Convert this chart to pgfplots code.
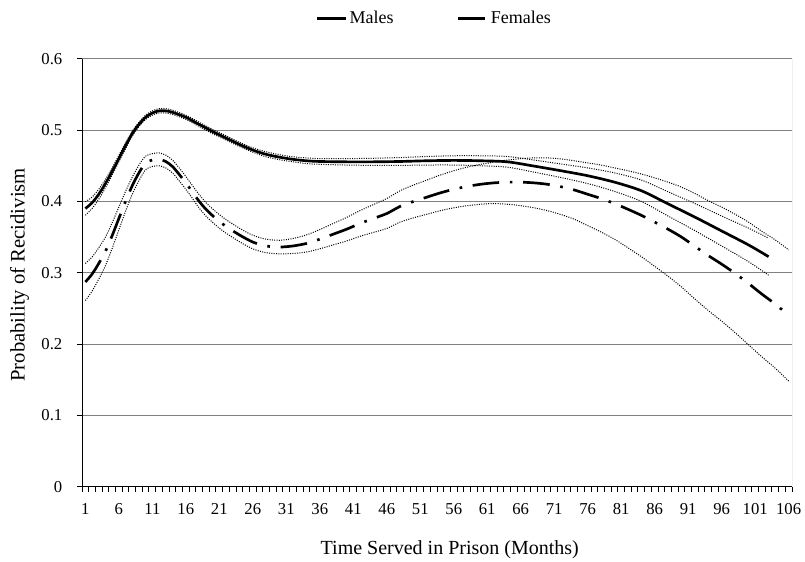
\documentclass[border=0pt]{standalone}
\usepackage{pgfplots}
\usepackage{pgfplotstable}
\pgfplotsset{compat=1.18}
\usepackage{fontspec}
\setmainfont{Liberation Serif}

\pgfplotstableread{
x mean up lo
1 0.390 0.3995 0.3805
2 0.398 0.406 0.390
3 0.410 0.417 0.403
4 0.425 0.431 0.419
5 0.442 0.447 0.437
6 0.460 0.4645 0.4555
7 0.478 0.482 0.474
8 0.495 0.4985 0.4915
9 0.508 0.511 0.505
10 0.518 0.521 0.515
11 0.524 0.527 0.521
12 0.527 0.530 0.524
13 0.527 0.530 0.524
14 0.525 0.528 0.522
16 0.518 0.521 0.515
18 0.508 0.511 0.505
20 0.498 0.501 0.495
22 0.489 0.492 0.486
24 0.480 0.483 0.477
26 0.472 0.475 0.469
28 0.466 0.4695 0.4625
30 0.462 0.4655 0.4585
32 0.459 0.4625 0.4555
34 0.457 0.461 0.453
36 0.456 0.460 0.452
40 0.4555 0.460 0.451
44 0.4555 0.4605 0.4505
48 0.456 0.4615 0.4505
52 0.457 0.463 0.451
56 0.4575 0.464 0.451
60 0.457 0.464 0.450
64 0.4555 0.463 0.448
68 0.4495 0.458 0.441
72 0.4430 0.4525 0.4335
76 0.4360 0.447 0.425
80 0.4270 0.440 0.414
84 0.4150 0.430 0.400
88 0.3965 0.4135 0.3795
92 0.3780 0.397 0.359
96 0.3585 0.3795 0.3375
100 0.3390 0.3625 0.3155
103 0.3225 0.3485 0.2965
}\males

\pgfplotstableread{
x mean up lo
1 0.287 0.313 0.261
2 0.298 0.322 0.274
3 0.313 0.335 0.291
4 0.330 0.350 0.310
5 0.352 0.370 0.334
6 0.376 0.392 0.360
7 0.400 0.414 0.386
8 0.422 0.434 0.410
9 0.440 0.451 0.429
10 0.454 0.4635 0.4445
11 0.458 0.467 0.449
12 0.459 0.468 0.450
13 0.456 0.465 0.447
14 0.449 0.458 0.440
15 0.438 0.447 0.429
16 0.426 0.435 0.417
17 0.413 0.422 0.404
18 0.400 0.4095 0.3905
19 0.389 0.3985 0.3795
20 0.380 0.3895 0.3705
21 0.372 0.3815 0.3625
22 0.365 0.3745 0.3555
24 0.353 0.3625 0.3435
26 0.343 0.3525 0.3335
28 0.3375 0.347 0.328
30 0.336 0.3455 0.3265
32 0.3375 0.348 0.327
34 0.341 0.353 0.329
36 0.347 0.3605 0.3335
38 0.354 0.369 0.339
40 0.361 0.3775 0.3445
42 0.369 0.387 0.351
44 0.376 0.3955 0.3565
46 0.383 0.404 0.362
48 0.393 0.415 0.371
50 0.400 0.423 0.377
52 0.406 0.430 0.382
54 0.412 0.437 0.387
56 0.417 0.443 0.391
58 0.421 0.448 0.394
60 0.424 0.452 0.396
62 0.426 0.455 0.397
64 0.427 0.458 0.396
66 0.427 0.460 0.394
68 0.426 0.461 0.391
70 0.424 0.461 0.387
72 0.4206 0.4596 0.3816
74 0.416 0.457 0.375
76 0.410 0.454 0.366
78 0.404 0.451 0.357
80 0.397 0.447 0.347
82 0.389 0.443 0.335
84 0.3805 0.4385 0.3225
86 0.371 0.433 0.309
88 0.361 0.427 0.295
90 0.350 0.420 0.280
92 0.337 0.411 0.263
94 0.324 0.401 0.247
96 0.312 0.392 0.232
98 0.299 0.382 0.216
100 0.285 0.371 0.199
102 0.270 0.358 0.182
104 0.256 0.346 0.166
106 0.240 0.332 0.148
}\females

\begin{document}
\begin{tikzpicture}
\path[use as bounding box] (-61.5pt,-55.8pt) rectangle (542.25pt,364.95pt);
\begin{axis}[
  at={(0pt,0pt)}, anchor=south west,
  scale only axis, width=532.5pt, height=320.85pt,
  xmin=0.5, xmax=106.5, ymin=0, ymax=0.6,
  xtick={1,6,...,106},
  minor xtick={0.5,1.5,...,106.5},
  ytick={0,0.1,0.2,0.3,0.4,0.5,0.6},
  yticklabel style={/pgf/number format/fixed,/pgf/number format/precision=1, xshift=-7.5pt},
  xticklabel style={yshift=-5.5pt},
  /pgf/number format/assume math mode=true,
  ymajorgrids,
  major grid style={black!50, line width=0.75pt},
  axis x line*=bottom, axis y line*=left,
  axis line style={black, line width=0.75pt},
  tick align=outside,
  major tick length=3.75pt, minor tick length=3.75pt,
  tick style={black, line width=0.75pt},
  major x tick style={draw=none},
  ticklabel style={font=\fontsize{12.5}{15}\selectfont},
  xlabel={Time Served in Prison (Months)},
  ylabel={Probability of Recidivism},
  xlabel style={font=\fontsize{15}{18}\selectfont, at={(axis description cs:0.518,-0.148)}, anchor=center},
  ylabel style={font=\fontsize{15.5}{18}\selectfont, at={(axis description cs:-0.088,0.495)}, anchor=center},
  legend style={at={(axis description cs:0.496,1.094)}, anchor=center, draw=none,
    font=\fontsize{13.5}{16}\selectfont, legend columns=2,
    nodes={inner xsep=1.5pt},
    /tikz/every even column/.append style={column sep=46pt}},
  legend cell align=left,
  legend image code/.code={\draw[#1] (0pt,0pt) -- (22pt,0pt);},
]
\draw[black!50, line width=0.75pt] (rel axis cs:1,0) -- (rel axis cs:1,1);
\addplot[forget plot, black, line width=0.75pt, densely dotted, smooth] table[x=x, y=up] {\males};
\addplot[forget plot, black, line width=0.75pt, densely dotted, smooth] table[x=x, y=lo] {\males};
\addplot[forget plot, black, line width=0.75pt, densely dotted, smooth] table[x=x, y=up] {\females};
\addplot[forget plot, black, line width=0.75pt, densely dotted, smooth] table[x=x, y=lo] {\females};
\addplot[black, line width=2pt, smooth] table[x=x, y=mean] {\males};
\addlegendentry{Males}
\addplot[black, line width=2pt, smooth, dash pattern=on 20pt off 8pt on 2pt off 8pt] table[x=x, y=mean] {\females};
\addlegendentry{Females}
\end{axis}
\end{tikzpicture}
\end{document}
